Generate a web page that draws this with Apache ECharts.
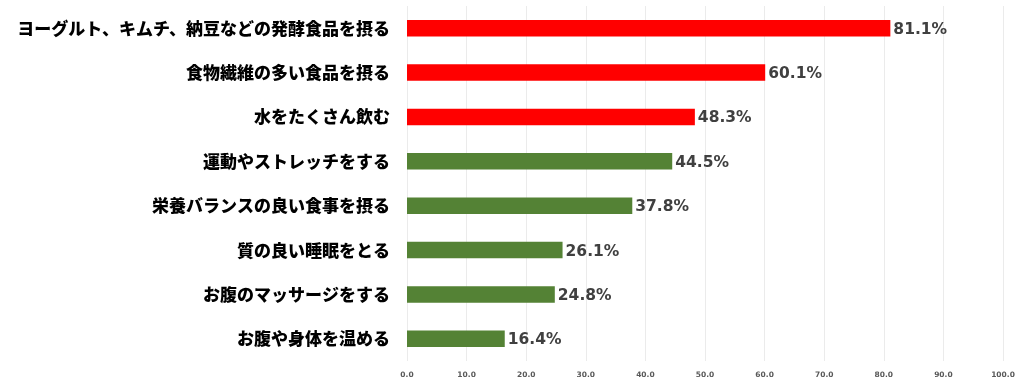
<!DOCTYPE html>
<html><head><meta charset="utf-8">
<script src="https://cdn.jsdelivr.net/npm/echarts@6/dist/echarts.min.js"></script>
<style>html,body{margin:0;padding:0;background:#fff}#c{width:1024px;height:382px}</style>
</head><body><div id="c"></div>
<script>
const categories = ["ヨーグルト、キムチ、納豆などの発酵食品を摂る","食物繊維の多い食品を摂る","水をたくさん飲む","運動やストレッチをする","栄養バランスの良い食事を摂る","質の良い睡眠をとる","お腹のマッサージをする","お腹や身体を温める"];
const values = [81.1, 60.1, 48.3, 44.5, 37.8, 26.1, 24.8, 16.4];
const barColors = ["#FF0000","#FF0000","#FF0000","#548235","#548235","#548235","#548235","#548235"];
const chart = echarts.init(document.getElementById('c'));
chart.setOption({
  animation:false,
  grid:{left:407,right:21,top:6,bottom:21},
  xAxis:{type:'value',min:0,max:100,interval:10,
    axisLine:{show:false},axisTick:{show:false},
    splitLine:{lineStyle:{color:'#ebebeb',width:1}},
    axisLabel:{formatter:v=>v.toFixed(1),fontFamily:'DejaVu Sans',fontWeight:'bold',fontSize:7.5,color:'#595959',margin:10}},
  yAxis:{type:'category',data:categories,inverse:true,
    axisLine:{show:false},axisTick:{show:false},
    axisLabel:{fontFamily:'Noto Sans CJK JP',fontWeight:900,fontSize:17,color:'#000',margin:17}},
  series:[{type:'bar',barWidth:'37%',
    data:values.map((v,i)=>({value:v,itemStyle:{color:barColors[i]}})),
    label:{show:true,position:'right',distance:3,offset:[0,1.5],formatter:p=>p.value.toFixed(1)+'%',
      fontFamily:'DejaVu Sans',fontWeight:'bold',fontSize:15.5,color:'#404040'}}]
});
</script></body></html>
